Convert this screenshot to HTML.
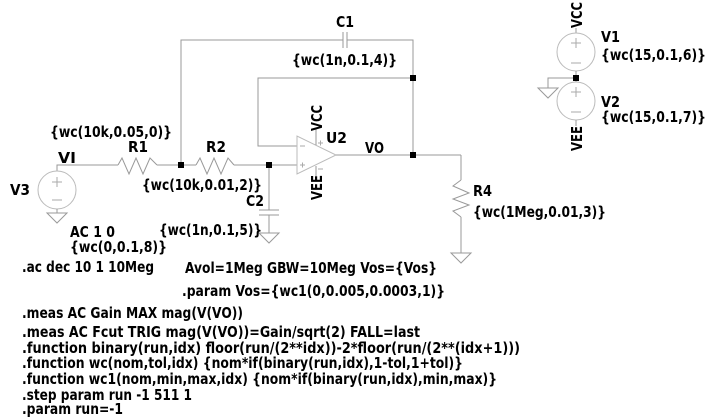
<!DOCTYPE html>
<html><head><meta charset="utf-8"><style>
html,body{margin:0;padding:0;background:#fff;}
svg{display:block;}
text{font-family:"DejaVu Sans","Liberation Sans",sans-serif;font-weight:bold;font-size:15px;fill:#000;}
</style></head><body>
<svg width="710" height="418" viewBox="0 0 710 418" xmlns="http://www.w3.org/2000/svg">
<g stroke="#999" stroke-width="1" fill="none">
<polyline points="57,171 57,165 118,165"/>
<polyline points="118,165 122,158 129,174 136,158 143,174 150,158 157,165"/>
<line x1="157" y1="165" x2="196" y2="165"/>
<polyline points="196,165 200,158 207,174 214,158 221,174 228,158 234,165"/>
<line x1="234" y1="165" x2="297" y2="165"/>
<polyline points="181,165 181,40 343,40"/>
<polyline points="347,40 413,40 413,155"/>
<line x1="343" y1="32" x2="343" y2="48"/><line x1="347" y1="32" x2="347" y2="48"/>
<polyline points="413,78 258,78 258,146 297,146"/>
<polygon points="297,136 297,174 336,155" stroke="#bbb"/>
<line x1="336" y1="155" x2="461" y2="155"/>
<line x1="316" y1="128" x2="316" y2="145"/>
<line x1="316" y1="166" x2="316" y2="176"/>
<line x1="269" y1="165" x2="269" y2="210"/>
<line x1="259" y1="210" x2="279" y2="210"/><line x1="259" y1="215" x2="279" y2="215"/>
<line x1="269" y1="215" x2="269" y2="233"/>
<polygon points="259,233 279,233 269,243"/>
<circle cx="57" cy="190" r="19" stroke="#bbb"/>
<line x1="57" y1="209" x2="57" y2="213"/>
<polygon points="47,213 67,213 57,223"/>
<polyline points="461,155 461,180"/>
<polyline points="461,180 453,186 469,193 453,199 469,205 453,211 461,217"/>
<polyline points="461,217 461,253"/>
<polygon points="451,253 471,253 461,263"/>
<line x1="576" y1="28" x2="576" y2="33"/>
<circle cx="576" cy="52" r="19" stroke="#bbb"/>
<line x1="576" y1="71" x2="576" y2="82"/>
<circle cx="576" cy="101" r="19" stroke="#bbb"/>
<line x1="576" y1="120" x2="576" y2="126"/>
<polyline points="576,78 548,78 548,88"/>
<polygon points="538,88 558,88 548,98"/>
</g>
<g stroke="#aaa" stroke-width="1">
<line x1="52" y1="182" x2="62" y2="182"/><line x1="57" y1="177" x2="57" y2="187"/><line x1="52" y1="200" x2="62" y2="200"/>
<line x1="571" y1="43" x2="581" y2="43"/><line x1="576" y1="38" x2="576" y2="48"/><line x1="571" y1="63" x2="581" y2="63"/>
<line x1="571" y1="92" x2="581" y2="92"/><line x1="576" y1="87" x2="576" y2="97"/><line x1="571" y1="112" x2="581" y2="112"/>
<line x1="300" y1="146" x2="305" y2="146"/>
<line x1="300" y1="165" x2="305" y2="165"/><line x1="302.5" y1="162.5" x2="302.5" y2="167.5"/>
<line x1="318" y1="143" x2="323" y2="143"/><line x1="320.5" y1="140.5" x2="320.5" y2="145.5"/>
<line x1="318" y1="169" x2="323" y2="169"/>
</g>
<g fill="#000">
<rect x="178" y="162" width="6" height="6"/><rect x="266" y="162" width="6" height="6"/>
<rect x="410" y="75" width="6" height="6"/><rect x="410" y="152" width="6" height="6"/>
<rect x="573" y="75" width="6" height="6"/>
</g>
<text x="336" y="27" textLength="18" lengthAdjust="spacingAndGlyphs">C1</text>
<text x="292" y="65" textLength="105" lengthAdjust="spacingAndGlyphs">{wc(1n,0.1,4)}</text>
<text x="50" y="137" textLength="122" lengthAdjust="spacingAndGlyphs">{wc(10k,0.05,0)}</text>
<text x="58" y="163" textLength="18" lengthAdjust="spacingAndGlyphs">VI</text>
<text x="128" y="152" textLength="20" lengthAdjust="spacingAndGlyphs">R1</text>
<text x="206" y="152" textLength="20" lengthAdjust="spacingAndGlyphs">R2</text>
<text x="142" y="190" textLength="120" lengthAdjust="spacingAndGlyphs">{wc(10k,0.01,2)}</text>
<text x="246" y="206" textLength="18" lengthAdjust="spacingAndGlyphs">C2</text>
<text x="159" y="235" textLength="103" lengthAdjust="spacingAndGlyphs">{wc(1n,0.1,5)}</text>
<text x="10" y="195" textLength="20" lengthAdjust="spacingAndGlyphs">V3</text>
<text x="70" y="237" textLength="45" lengthAdjust="spacingAndGlyphs">AC 1 0</text>
<text x="70" y="252" textLength="97" lengthAdjust="spacingAndGlyphs">{wc(0,0.1,8)}</text>
<text x="326" y="143" textLength="21" lengthAdjust="spacingAndGlyphs">U2</text>
<text x="365" y="153" textLength="19" lengthAdjust="spacingAndGlyphs">VO</text>
<text transform="translate(322,131) rotate(-90)" textLength="26" lengthAdjust="spacingAndGlyphs">VCC</text>
<text transform="translate(322,200) rotate(-90)" textLength="25" lengthAdjust="spacingAndGlyphs">VEE</text>
<text transform="translate(582,28) rotate(-90)" textLength="26" lengthAdjust="spacingAndGlyphs">VCC</text>
<text transform="translate(582,151) rotate(-90)" textLength="25" lengthAdjust="spacingAndGlyphs">VEE</text>
<text x="473" y="196" textLength="19" lengthAdjust="spacingAndGlyphs">R4</text>
<text x="473" y="217" textLength="133" lengthAdjust="spacingAndGlyphs">{wc(1Meg,0.01,3)}</text>
<text x="601" y="42" textLength="19" lengthAdjust="spacingAndGlyphs">V1</text>
<text x="601" y="60" textLength="105" lengthAdjust="spacingAndGlyphs">{wc(15,0.1,6)}</text>
<text x="601" y="107" textLength="19" lengthAdjust="spacingAndGlyphs">V2</text>
<text x="601" y="122" textLength="105" lengthAdjust="spacingAndGlyphs">{wc(15,0.1,7)}</text>
<text x="22" y="272" textLength="132" lengthAdjust="spacingAndGlyphs">.ac dec 10 1 10Meg</text>
<text x="185" y="273" textLength="252" lengthAdjust="spacingAndGlyphs">Avol=1Meg GBW=10Meg Vos={Vos}</text>
<text x="182" y="296" textLength="263" lengthAdjust="spacingAndGlyphs">.param Vos={wc1(0,0.005,0.0003,1)}</text>
<text x="22" y="318" textLength="221" lengthAdjust="spacingAndGlyphs">.meas AC Gain MAX mag(V(VO))</text>
<text x="22" y="337" textLength="398" lengthAdjust="spacingAndGlyphs">.meas AC Fcut TRIG mag(V(VO))=Gain/sqrt(2) FALL=last</text>
<text x="22" y="353" textLength="498" lengthAdjust="spacingAndGlyphs">.function binary(run,idx) floor(run/(2**idx))-2*floor(run/(2**(idx+1)))</text>
<text x="22" y="368" textLength="441" lengthAdjust="spacingAndGlyphs">.function wc(nom,tol,idx) {nom*if(binary(run,idx),1-tol,1+tol)}</text>
<text x="22" y="384" textLength="475" lengthAdjust="spacingAndGlyphs">.function wc1(nom,min,max,idx) {nom*if(binary(run,idx),min,max)}</text>
<text x="22" y="400" textLength="170" lengthAdjust="spacingAndGlyphs">.step param run -1 511 1</text>
<text x="22" y="414" textLength="101" lengthAdjust="spacingAndGlyphs">.param run=-1</text>
</svg>
</body></html>
